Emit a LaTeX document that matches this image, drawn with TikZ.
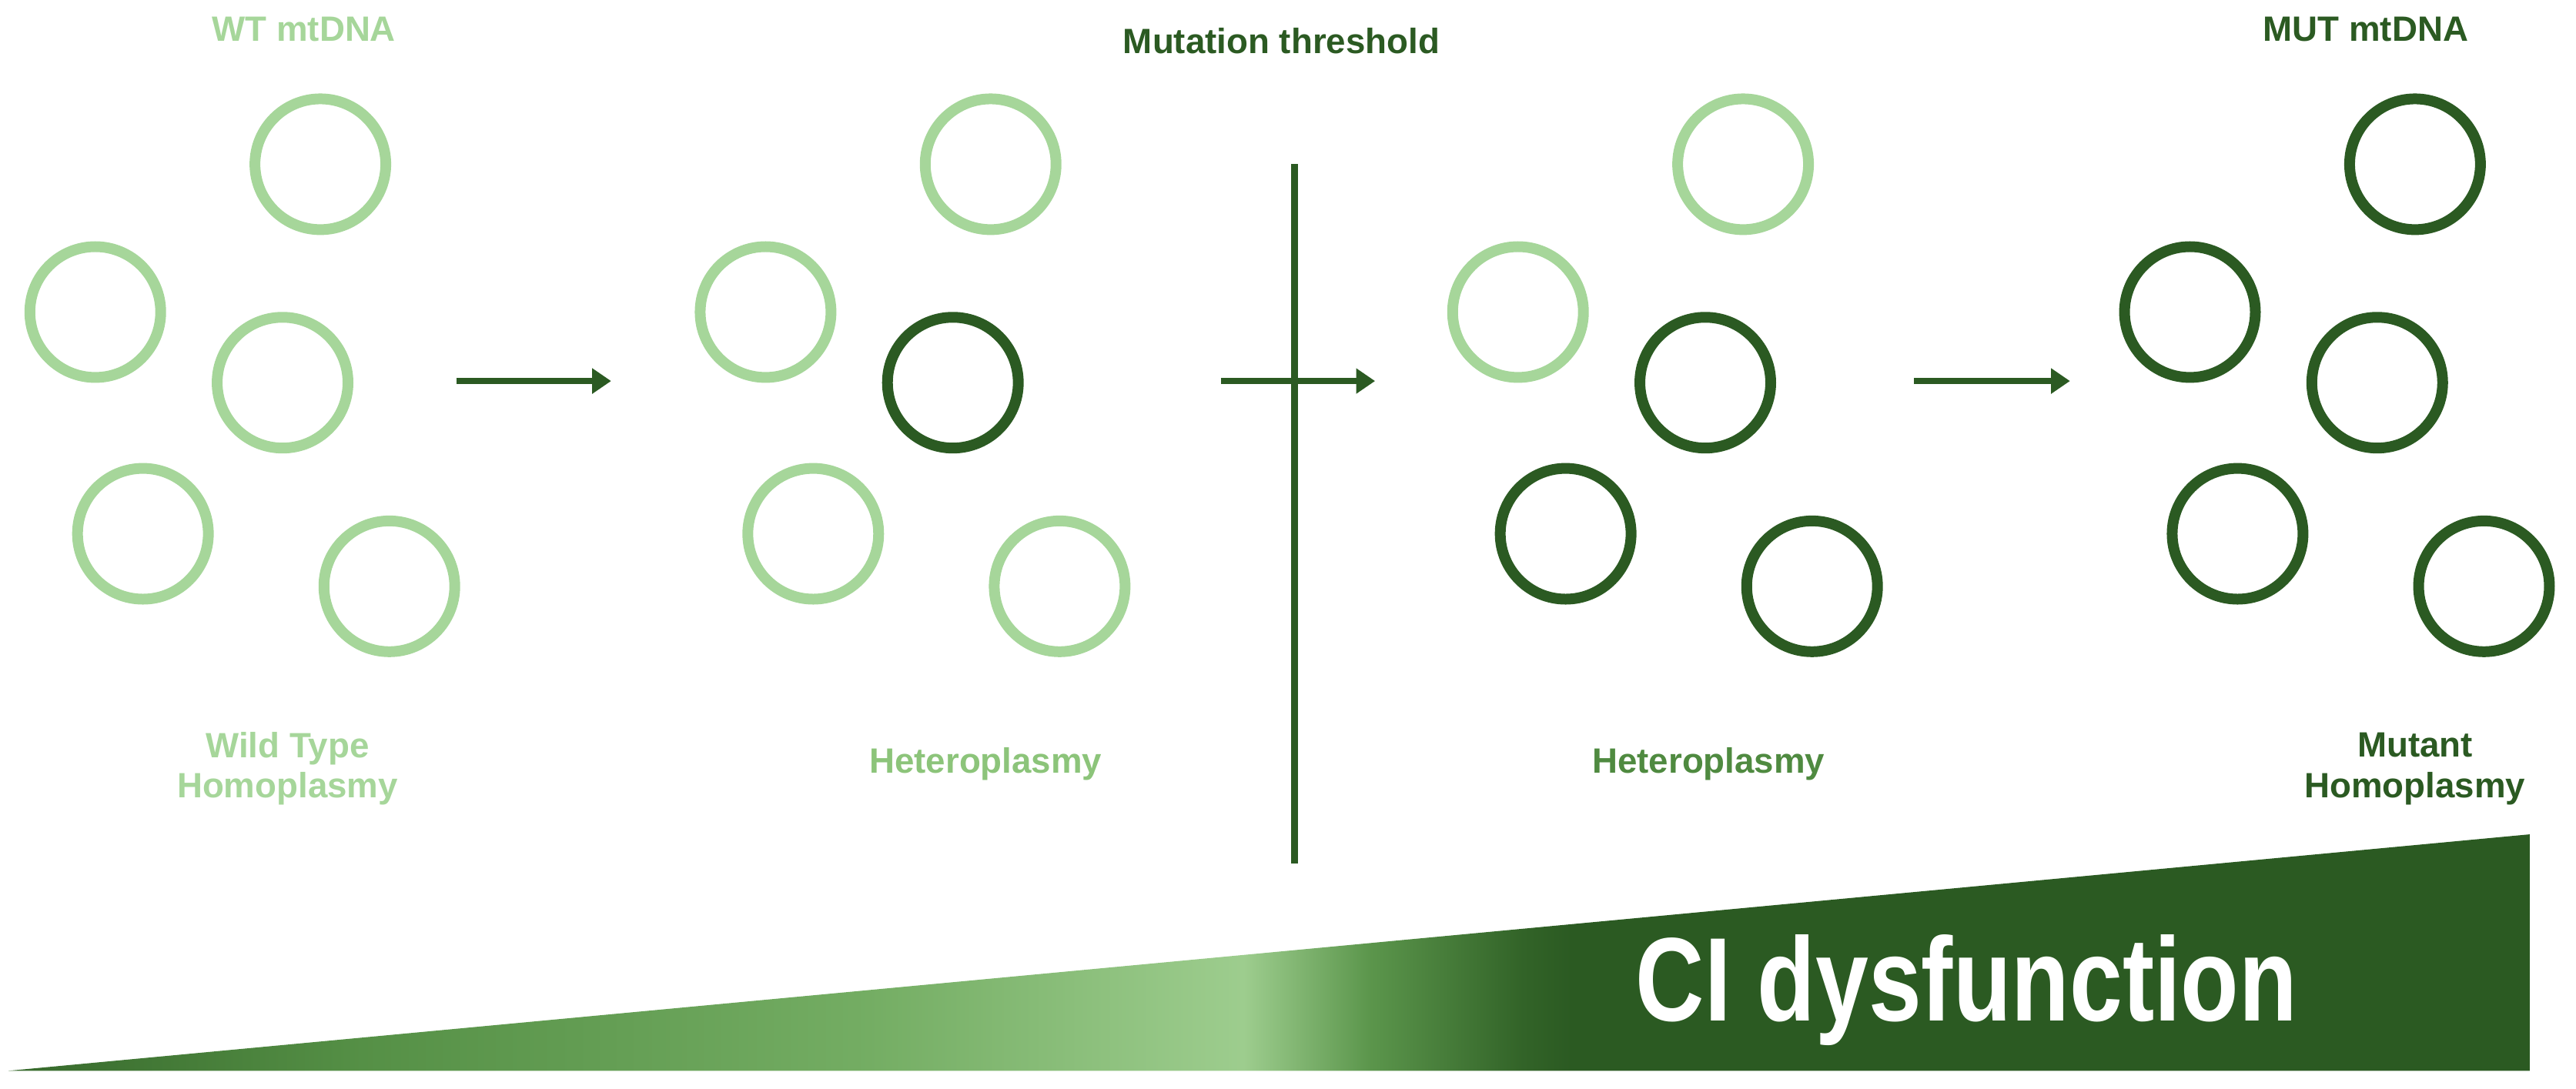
\documentclass[tikz,border=0pt]{standalone}
\usepackage{fontspec}
\setmainfont{Liberation Sans}
\usetikzlibrary{positioning,arrows.meta}
\definecolor{wtgreen}{HTML}{A6D69A}
\definecolor{hetlight}{HTML}{8CC47A}
\definecolor{hetdark}{HTML}{4F8A40}
\definecolor{mutgreen}{HTML}{2B5A22}
% the path is fitted to the middle 50bp of the shading
\pgfdeclarehorizontalshading{cishade}{100bp}{color(0bp)=(mutgreen!70!hetdark);
    color(25bp)=(mutgreen!70!hetdark); color(32bp)=(hetdark!90!hetlight);
    color(42bp)=(hetdark!40!hetlight); color(49.5bp)=(hetlight!85!white);
    color(52bp)=(hetdark!80!hetlight); color(55bp)=(mutgreen!80!hetdark);
    color(56bp)=(mutgreen); color(100bp)=(mutgreen)}
\tikzset{wtring/.style={draw=wtgreen,circle,line width=0.14cm,minimum size=1.7cm},
    mutring/.style={draw=mutgreen,circle,line width=0.14cm,minimum size=1.7cm},
    steptext/.style={font=\fontsize{13}{15}\selectfont\bfseries,align=center},
    steparrow/.style={draw=mutgreen,line width=2.5pt,-{Triangle[length=7pt,width=9pt]}}
}
\newcommand{\ringgroup}[7]
{
% args: (name, x shift, ring styles for the five rings)
    \node (#1a) at (#2+195,100) [#3] {};
    \node (#1b) at (#2+58,190) [#4] {};
    \node (#1c) at (#2+172,233) [#5] {};
    \node (#1d) at (#2+87,325) [#6] {};
    \node (#1e) at (#2+237,357) [#7] {};
}
\begin{document}
\begin{tikzpicture}[x=0.02134cm,y=-0.02134cm]
\useasboundingbox (0,0) rectangle (1568,663);

\ringgroup{wt}{0}{wtring}{wtring}{wtring}{wtring}{wtring}
\ringgroup{hl}{408}{wtring}{wtring}{mutring}{wtring}{wtring}
\ringgroup{hd}{866}{wtring}{wtring}{mutring}{mutring}{mutring}
\ringgroup{mu}{1275}{mutring}{mutring}{mutring}{mutring}{mutring}

\node (wttitle) at (185,18) [steptext,text=wtgreen] {WT mtDNA};
\node (thtitle) at (780,25) [steptext,text=mutgreen] {Mutation threshold};
\node (mutitle) at (1440,18) [steptext,text=mutgreen] {MUT mtDNA};

\node (wtlabel) at (175,468) [steptext,text=wtgreen] {Wild Type\\Homoplasmy};
\node (hllabel) at (600,465) [steptext,text=hetlight] {Heteroplasmy};
\node (hdlabel) at (1040,465) [steptext,text=hetdark] {Heteroplasmy};
\node (mulabel) at (1470,468) [steptext,text=mutgreen] {Mutant\\Homoplasmy};

\coordinate (a1) at (278,232); \coordinate (b1) at (372,232);
\coordinate (a2) at (743,232); \coordinate (b2) at (837,232);
\coordinate (a3) at (1165,232); \coordinate (b3) at (1260,232);
\draw [steparrow] (a1) -- (b1);
\draw [steparrow] (a2) -- (b2);
\draw [steparrow] (a3) -- (b3);

\coordinate (thtop) at (788,100); \coordinate (thbot) at (788,526);
\draw [mutgreen,line width=2.5pt] (thtop) -- (thbot);

\coordinate (ciL) at (5,652); \coordinate (ciT) at (1540,508); \coordinate (ciR) at (1540,652);
\shade [shading=cishade] (ciL) -- (ciT) -- (ciR) -- cycle;
\node (cilabel) at (1197,603) [text=white,font=\fontsize{44}{50}\selectfont\bfseries,xscale=0.8] {CI dysfunction};

\end{tikzpicture}
\end{document}
